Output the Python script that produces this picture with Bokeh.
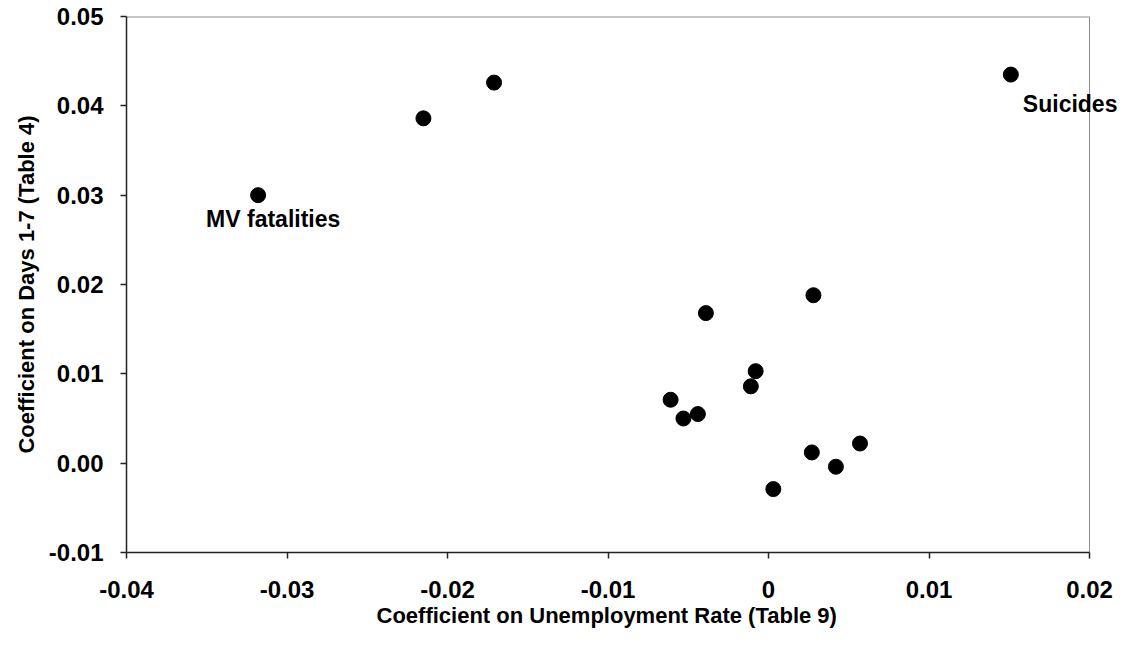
from bokeh.plotting import figure
from bokeh.models import FixedTicker, Label, Range1d, Title
from bokeh.embed import file_html
from bokeh.resources import INLINE

# Data
unemp_coef = [-0.0318, -0.0215, -0.0171, 0.0151, 0.0028, -0.0039, -0.0008,
              -0.0011, -0.0061, -0.0044, -0.0053, 0.0027, 0.0057, 0.0042, 0.0003]
days_coef = [0.0300, 0.0386, 0.0426, 0.0435, 0.0188, 0.0168, 0.0103,
             0.0086, 0.0071, 0.0055, 0.0050, 0.0012, 0.0022, -0.0004, -0.0029]

label_names = ["MV fatalities", "Suicides"]
label_point_index = [0, 3]

x_ticks = [-0.04, -0.03, -0.02, -0.01, 0.0, 0.01, 0.02]
x_tick_labels = ["-0.04", "-0.03", "-0.02", "-0.01", "0", "0.01", "0.02"]
y_ticks = [-0.01, 0.0, 0.01, 0.02, 0.03, 0.04, 0.05]
y_tick_labels = ["-0.01", "0.00", "0.01", "0.02", "0.03", "0.04", "0.05"]

x_title = "Coefficient on Unemployment Rate (Table 9)"
y_title = "Coefficient on Days 1-7 (Table 4)"

FONT = "Liberation Sans"

# The plot area is 963 px wide; the frame is extended to the right so that the
# "Suicides" label (which overhangs the plot border) is not clipped.
AXIS_W = 963
FRAME_W = 1000
x_min, x_max = x_ticks[0], x_ticks[-1]
y_min, y_max = y_ticks[0], y_ticks[-1]
x_end = x_min + (x_max - x_min) * FRAME_W / AXIS_W

p = figure(frame_width=FRAME_W, frame_height=536,
           min_border_left=126, min_border_right=2,
           min_border_top=16, min_border_bottom=78,
           x_range=Range1d(x_min, x_end), y_range=Range1d(y_min, y_max),
           output_backend="svg", toolbar_location=None,
           background_fill_color="white", border_fill_color="white")

p.grid.visible = False
p.outline_line_color = None

# plot-area border: gray top and right
p.segment(x0=[x_min], y0=[y_max], x1=[x_max], y1=[y_max], line_color="#8c8c8c", line_width=2)
p.segment(x0=[x_max], y0=[y_min], x1=[x_max], y1=[y_max], line_color="#8c8c8c", line_width=1)

p.scatter(unemp_coef, days_coef, size=15, color="black")

label_offsets = [(-52, -24), (12, -29)]
for name, idx, (xo, yo) in zip(label_names, label_point_index, label_offsets):
    p.add_layout(Label(x=unemp_coef[idx], y=days_coef[idx], text=name,
                       x_offset=xo, y_offset=yo,
                       text_font=FONT, text_font_style="bold", text_font_size="23px",
                       text_align="left", text_baseline="middle", text_color="black"))

for ax in (p.xaxis[0], p.yaxis[0]):
    ax.axis_line_color = "#222222"
    ax.axis_line_width = 1.5
    ax.major_tick_line_color = "#222222"
    ax.major_tick_line_width = 1.5
    ax.major_tick_out = 6
    ax.major_tick_in = 0
    ax.minor_tick_out = 0
    ax.minor_tick_in = 0
    ax.major_label_text_font = FONT
    ax.major_label_text_font_style = "bold"
    ax.major_label_text_font_size = "24px"
    ax.major_label_text_color = "black"
    ax.axis_label_text_font = FONT
    ax.axis_label_text_font_style = "bold"
    ax.axis_label_text_font_size = "22px"
    ax.axis_label_text_color = "black"

p.xaxis.bounds = (x_min, x_max)
p.xaxis.ticker = FixedTicker(ticks=x_ticks)
p.xaxis.major_label_overrides = dict(zip(x_ticks, x_tick_labels))
p.yaxis.ticker = FixedTicker(ticks=y_ticks)
p.yaxis.major_label_overrides = dict(zip(y_ticks, y_tick_labels))

p.yaxis.axis_label = y_title
p.xaxis.major_label_standoff = 22
p.yaxis.major_label_standoff = 17
p.yaxis.axis_label_standoff = 7

# x-axis title centred under the 963 px plot area (not the extended frame)
p.add_layout(Title(text=x_title, align="left", offset=250, standoff=0,
                   text_font=FONT, text_font_style="bold", text_font_size="22px",
                   text_color="black"), "below")

open("out.html", "w").write(file_html(p, INLINE))
